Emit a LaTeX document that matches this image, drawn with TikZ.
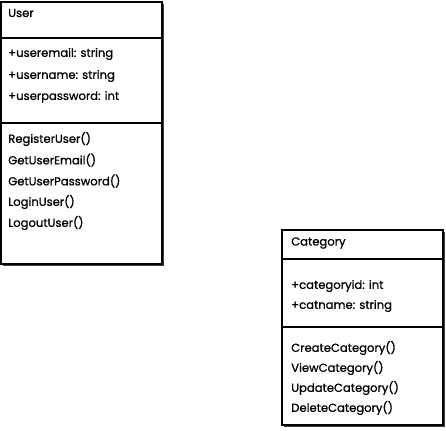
\documentclass[tikz,border=0pt]{standalone}
\usepackage{fontspec}
\setmainfont{Poppins}[FakeBold=0.9,BoldFont=Poppins]
\begin{document}
\begin{tikzpicture}[x=0.75pt,y=-0.75pt,
  classbox/.style={draw=black,line width=1.1pt,fill=white},
  shadowbox/.style={fill=black!75},
  divider/.style={draw=black,line width=0.8pt},
  member/.style={anchor=west,inner sep=0pt,font=\fontsize{8.7pt}{10pt}\selectfont\bfseries}]
\useasboundingbox (0,0) rectangle (446,430);
% User class
\fill[shadowbox] (3,4) rectangle (164,266);
\draw[classbox] (1,2) rectangle (162,264);
\draw[divider] (1,38) -- (162,38);
\draw[divider] (1,123) -- (162,123);
\node[member] (uname) at (8,13) {User};
\node[member] (ua1) at (8,54) {+useremail: string};
\node[member] (ua2) at (8,76) {+username: string};
\node[member] (ua3) at (8,97) {+userpassword: int};
\node[member] (um1) at (8,139) {RegisterUser()};
\node[member] (um2) at (8,160) {GetUserEmail()};
\node[member] (um3) at (8,181) {GetUserPassword()};
\node[member] (um4) at (8,202) {LoginUser()};
\node[member] (um5) at (8,223) {LogoutUser()};
% Category class
\fill[shadowbox] (284,232) rectangle (445,427);
\draw[classbox] (282,230) rectangle (443,425);
\draw[divider] (282,259) -- (443,259);
\draw[divider] (282,327) -- (443,327);
\node[member] (cname) at (291,243) {Category};
\node[member] (ca1) at (291,286) {+categoryid: int};
\node[member] (ca2) at (291,306) {+catname: string};
\node[member] (cm1) at (291,348) {CreateCategory()};
\node[member] (cm2) at (291,368) {ViewCategory()};
\node[member] (cm3) at (291,388) {UpdateCategory()};
\node[member] (cm4) at (291,408) {DeleteCategory()};
\end{tikzpicture}
\end{document}
